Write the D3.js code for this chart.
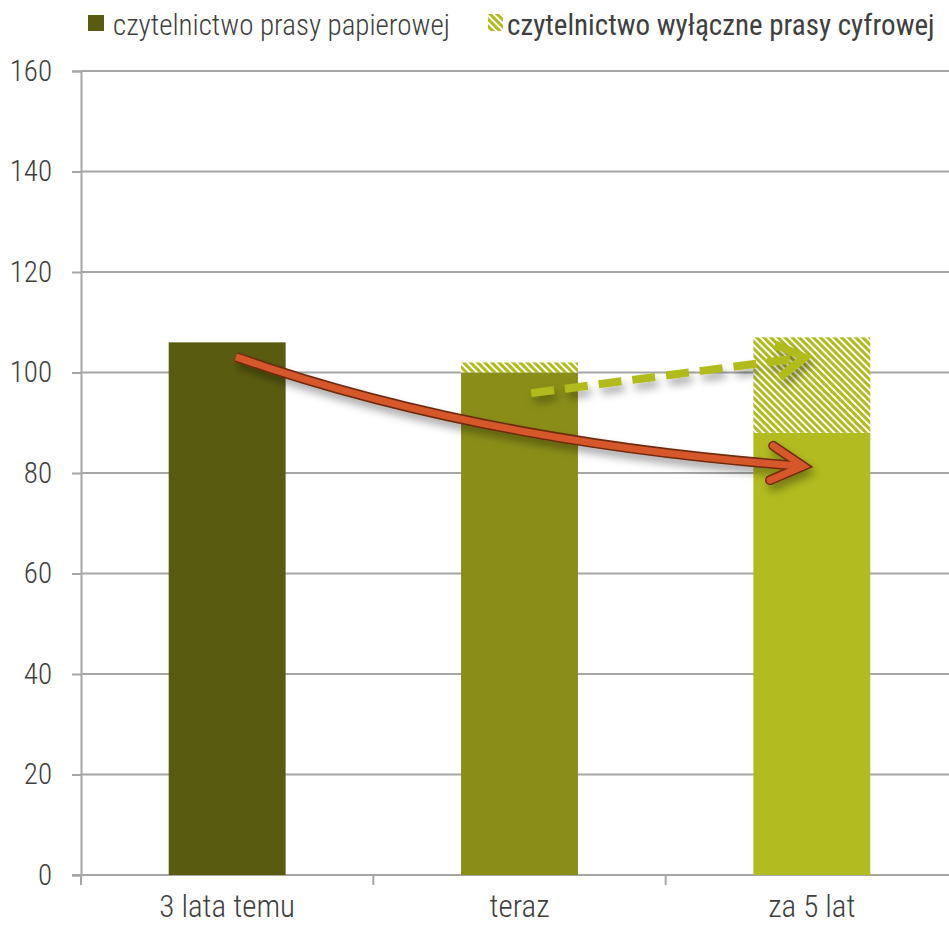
<!DOCTYPE html>
<html><head><meta charset="utf-8">
<script src="https://cdn.jsdelivr.net/npm/d3@7"></script>
<style>html,body{margin:0;padding:0;background:#fff;overflow:hidden}</style>
</head><body>
<svg id="chart" width="949" height="927"></svg>
<script>
const categories = ["3 lata temu", "teraz", "za 5 lat"];
const paperReading = [106, 100, 88];
const digitalOnlyReading = [0, 2, 19];
const yTicks = [0, 20, 40, 60, 80, 100, 120, 140, 160];
const seriesNames = ["czytelnictwo prasy papierowej", "czytelnictwo wyłączne prasy cyfrowej"];
// arrows in data space: [category index, value]
const declineArrow = [[0.03, 103.1], [0.86, 86.2], [1.97, 81.4]];
const digitalArrow = [[1.04, 95.9], [1.975, 103.0]];

const barColors = ["#595c10", "#8a8e18", "#b2bb1f"];
const hatchColor = "#b1bb1a";
const textColor = "#404040";
const gridColor = "#a6a6a6";
const FONT = "'Liberation Sans Narrow','Arial Narrow','Roboto Condensed','DejaVu Sans Condensed',sans-serif";

const svg = d3.select("#chart");
const pLeft = 81, pRight = 958, pTop = 71, pBottom = 875;

const x = d3.scaleBand().domain(categories).range([pLeft, pRight]).paddingInner(0.6).paddingOuter(0.3);
const xi = d3.scaleLinear().domain([-0.5, 2.5]).range([pLeft, pRight]);
const y = d3.scaleLinear().domain([0, 160]).range([pBottom, pTop]);

const defs = svg.append("defs");
const pat = defs.append("pattern").attr("id", "hatch").attr("patternUnits", "userSpaceOnUse")
  .attr("width", 5).attr("height", 5).attr("patternTransform", "rotate(-45)");
pat.append("rect").attr("width", 5).attr("height", 5).attr("fill", "#fff");
pat.append("rect").attr("width", 3).attr("height", 5).attr("fill", hatchColor);

const sh = defs.append("filter").attr("id", "shadow").attr("x", "-20%").attr("y", "-50%").attr("width", "140%").attr("height", "250%");
sh.append("feDropShadow").attr("dx", 3).attr("dy", 6).attr("stdDeviation", 4).attr("flood-color", "#000").attr("flood-opacity", 0.35);

// gridlines
svg.append("g").selectAll("line").data(yTicks.filter(d => d > 0)).join("line")
  .attr("x1", pLeft).attr("x2", pRight).attr("y1", d => y(d)).attr("y2", d => y(d))
  .attr("stroke", gridColor).attr("stroke-width", 2);

// y axis
const yAxis = svg.append("g").attr("transform", `translate(${pLeft},0)`)
  .call(d3.axisLeft(y).tickValues(yTicks).tickSize(9).tickPadding(20));
yAxis.select(".domain").attr("stroke", gridColor).attr("stroke-width", 2);
yAxis.selectAll(".tick line").attr("stroke", gridColor).attr("stroke-width", 2);
yAxis.selectAll(".tick text").attr("fill", textColor).style("font-family", FONT).style("font-size", "29px").style("font-weight", 300);

// x axis
const xAxis = svg.append("g").attr("transform", `translate(0,${pBottom})`)
  .call(d3.axisBottom(x).tickSize(0).tickPadding(20));
xAxis.select(".domain").remove();
xAxis.selectAll(".tick text").attr("fill", textColor).style("font-family", FONT).style("font-size", "31px").style("font-weight", 300);
svg.append("line").attr("x1", pLeft - 9).attr("x2", pRight).attr("y1", pBottom).attr("y2", pBottom)
  .attr("stroke", gridColor).attr("stroke-width", 2);
svg.append("g").selectAll("line").data([-0.5, 0.5, 1.5, 2.5]).join("line")
  .attr("x1", d => xi(d)).attr("x2", d => xi(d)).attr("y1", pBottom).attr("y2", pBottom + 10)
  .attr("stroke", gridColor).attr("stroke-width", 2);

// bars
svg.append("g").selectAll("rect").data(categories).join("rect")
  .attr("x", d => x(d)).attr("width", x.bandwidth())
  .attr("y", (d, i) => y(paperReading[i])).attr("height", (d, i) => y(0) - y(paperReading[i]))
  .attr("fill", (d, i) => barColors[i]);
svg.append("g").selectAll("rect").data(categories).join("rect")
  .attr("x", d => x(d)).attr("width", x.bandwidth())
  .attr("y", (d, i) => y(paperReading[i] + digitalOnlyReading[i]))
  .attr("height", (d, i) => y(paperReading[i]) - y(paperReading[i] + digitalOnlyReading[i]))
  .attr("fill", "url(#hatch)");

// arrowhead helper
function head(tip, dirAngle, len, spread) {
  const a1 = dirAngle + Math.PI - spread, a2 = dirAngle + Math.PI + spread;
  return `M${tip[0] + len * Math.cos(a1)},${tip[1] + len * Math.sin(a1)}L${tip[0]},${tip[1]}L${tip[0] + len * Math.cos(a2)},${tip[1] + len * Math.sin(a2)}`;
}

// red decline arrow
const rp = declineArrow.map(p => [xi(p[0]), y(p[1])]);
const rTipAng = Math.atan2(rp[2][1] - rp[1][1], rp[2][0] - rp[1][0]);
const rCurve = `M${rp[0][0]},${rp[0][1]}Q${rp[1][0]},${rp[1][1]} ${rp[2][0] - 4},${rp[2][1]}`;
const rHead = head(rp[2], rTipAng + 0.02, 36, 0.5);
const rg = svg.append("g").attr("filter", "url(#shadow)");
[[rCurve, "butt"], [rHead, "round"]].forEach(([d, cap]) => {
  rg.append("path").attr("d", d).attr("fill", "none").attr("stroke", "#6e2a10").attr("stroke-width", 10)
    .attr("stroke-linecap", cap).attr("stroke-linejoin", "miter");
});
[[rCurve, "butt"], [rHead, "round"]].forEach(([d, cap]) => {
  rg.append("path").attr("d", d).attr("fill", "none").attr("stroke", "#d6582a").attr("stroke-width", 7)
    .attr("stroke-linecap", cap).attr("stroke-linejoin", "miter");
});

// green dashed arrow
const gp = digitalArrow.map(p => [xi(p[0]), y(p[1])]);
const gAng = Math.atan2(gp[1][1] - gp[0][1], gp[1][0] - gp[0][0]);
const gg = svg.append("g").attr("filter", "url(#shadow)");
gg.append("path").attr("d", `M${gp[0][0]},${gp[0][1]}L${gp[1][0] - 10 * Math.cos(gAng)},${gp[1][1] - 10 * Math.sin(gAng)}`)
  .attr("stroke", hatchColor).attr("stroke-width", 8).attr("stroke-dasharray", "23,11").attr("fill", "none");
gg.append("path").attr("d", head(gp[1], gAng, 32, 0.55)).attr("fill", "none")
  .attr("stroke", hatchColor).attr("stroke-width", 8).attr("stroke-linejoin", "miter");

// legend
const lg = svg.append("g");
lg.append("rect").attr("x", 88).attr("y", 15).attr("width", 16).attr("height", 16).attr("fill", barColors[0]);
lg.append("text").attr("x", 113).attr("y", 35).text(seriesNames[0])
  .attr("fill", textColor).style("font-family", FONT).style("font-size", "29px").style("font-weight", 300);
lg.append("rect").attr("x", 488).attr("y", 14).attr("width", 15).attr("height", 17).attr("fill", "url(#hatch)");
lg.append("text").attr("x", 507).attr("y", 35).text(seriesNames[1])
  .attr("fill", textColor).style("font-family", FONT).style("font-size", "29px");
</script>
</body></html>
